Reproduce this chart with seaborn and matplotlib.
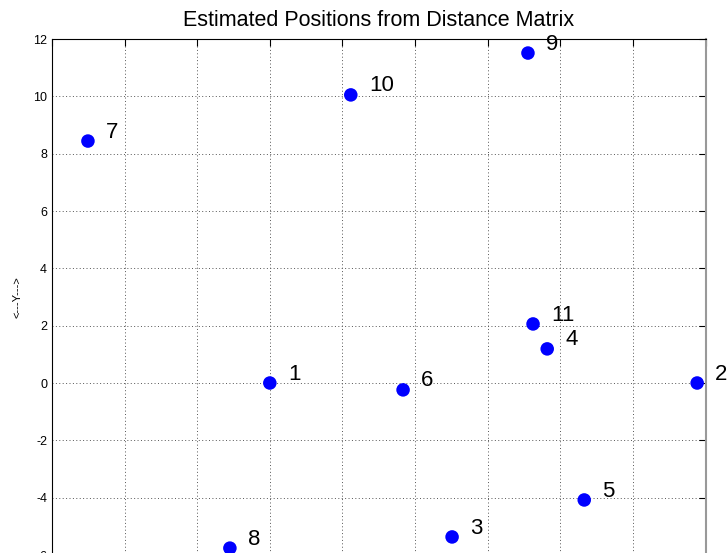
import matplotlib
matplotlib.use('Agg')
import matplotlib.pyplot as plt
import seaborn as sns
import pandas as pd

# estimated coordinates
etiquetas = ['1', '2', '3', '4', '5', '6', '7', '8', '9', '10', '11']
pos_x = [0.0, 11.77, 5.02, 7.64, 8.66, 3.67, -5.01, -1.10, 7.11, 2.23, 7.25]
pos_y = [0.0, 0.0, -5.37, 1.19, -4.08, -0.24, 8.44, -5.76, 11.51, 10.05, 2.06]
ticks = list(range(-6, 13, 2))


def construir_grafico(df):
    fig = plt.figure(figsize=(7.28, 5.53), dpi=100)
    # la figura original esta recortada por abajo
    ax = fig.add_axes([52 / 728, -2 / 553, (705.5 - 52) / 728, (555 - 39) / 553])

    sns.scatterplot(data=df, x='x', y='y', ax=ax, color='#0000ff', s=95,
                    edgecolor='none', zorder=3)
    for _, fila in df.iterrows():
        ax.text(fila['x'] + 0.5, fila['y'] + 0.12, fila['id'], fontsize=16,
                ha='left', va='baseline', color='black', zorder=4)

    ax.set_xlim(-6, 12)
    ax.set_ylim(-6, 12)
    ax.set_xticks(ticks)
    ax.set_xticklabels([])  # quedan fuera de la imagen recortada
    ax.set_yticks(ticks)
    ax.set_yticklabels([str(t) for t in ticks])
    ax.grid(True, linestyle=(0, (1, 2.5)), color='#555555', linewidth=0.7)
    ax.set_axisbelow(True)
    ax.tick_params(direction='in', length=5, width=0.8, top=True, right=True,
                   labelsize=9, colors='black')
    for lado in ['left', 'top', 'bottom']:
        ax.spines[lado].set_color('black')
        ax.spines[lado].set_linewidth(0.8)
    ax.spines['right'].set_color('#999999')
    ax.spines['right'].set_linewidth(1.5)

    ax.set_xlabel('')
    ax.set_ylabel('<---Y--->', fontsize=8, labelpad=8, color='black')
    ax.set_title('Estimated Positions from Distance Matrix', fontsize=15.5,
                 pad=9, color='black')

    fig.savefig('out.png', dpi=100)


sns.set_style('white')
plt.rcParams['font.family'] = ['Liberation Sans', 'DejaVu Sans']
plt.rcParams['text.color'] = 'black'

datos = pd.DataFrame({'id': etiquetas, 'x': pos_x, 'y': pos_y})
construir_grafico(datos)
